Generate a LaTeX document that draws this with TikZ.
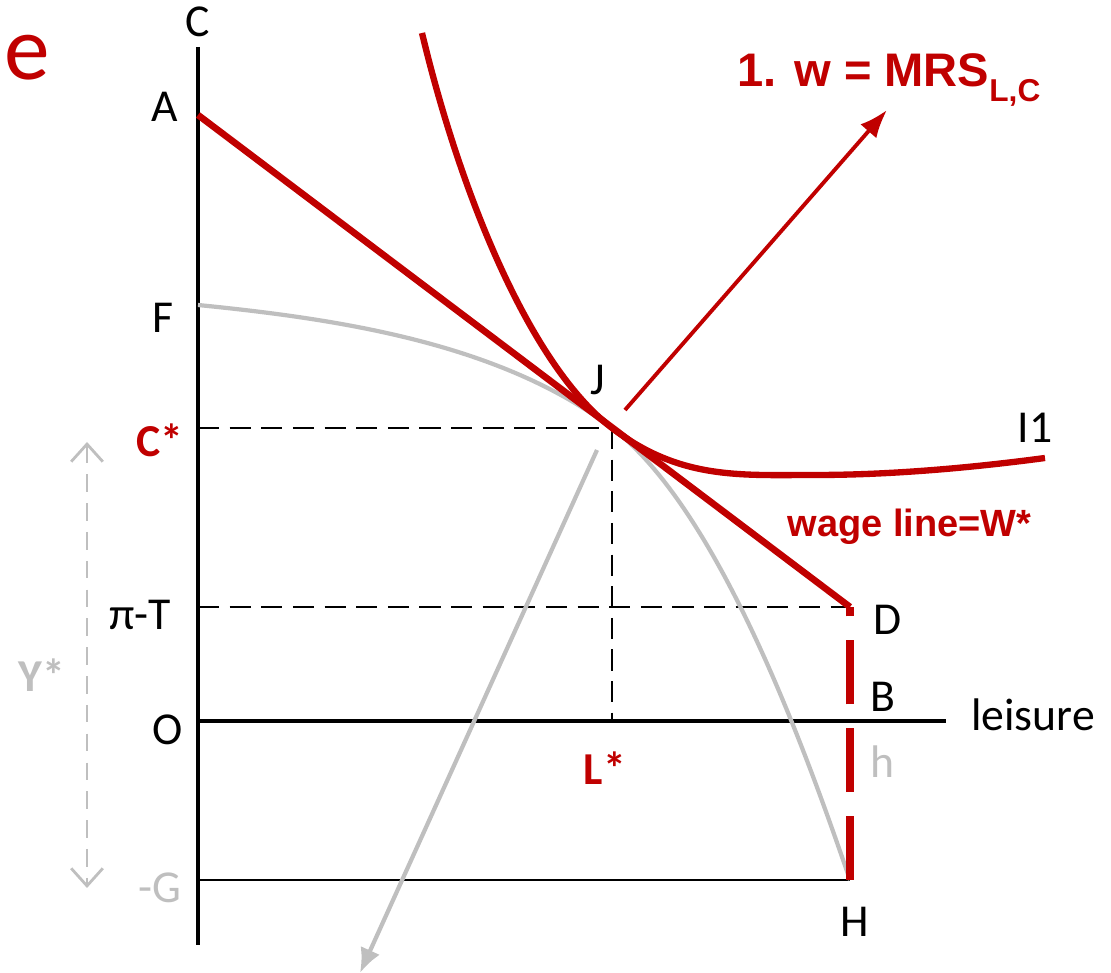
\documentclass[tikz,border=0pt]{standalone}
\usepackage{fontspec}
\setmainfont{Carlito}
\newfontfamily\arialfont{Liberation Sans}
\usetikzlibrary{arrows.meta,positioning,calc}
\definecolor{wagered}{RGB}{192,0,0}
\definecolor{curvegray}{RGB}{191,191,191}

\begin{document}
\begin{tikzpicture}[x=1cm,y=1cm,
  lab/.style={font=\fontsize{13}{15}\selectfont, inner sep=0pt},
  starlab/.style={font=\fontsize{13}{15}\selectfont\bfseries, inner sep=0pt},
  guide/.style={black, line width=0.6pt, dash pattern=on 6pt off 3pt}]
  \clip (-1.98,-2.52) rectangle (9.13,7.21);

  % Points of the diagram
  \coordinate (O) at (0,0);
  \coordinate (Ctop) at (0,6.74);
  \coordinate (Cbot) at (0,-2.24);
  \coordinate (Lend) at (7.48,0);
  \coordinate (A) at (0,6.06);
  \coordinate (D) at (6.52,1.14);
  \coordinate (F) at (0,4.16);
  \coordinate (J) at (4.14,2.93);
  \coordinate (H) at (6.52,-1.59);
  \coordinate (G) at (0,-1.59);
  \coordinate (PT) at (0,1.14);
  \coordinate (Cstar) at (0,2.93);
  \coordinate (Lstar) at (4.14,0);

  % Title fragment (cut off)
  \node[anchor=east, text=wagered, inner sep=0pt, font=\fontsize{26}{28}\selectfont] (title) at (-1.47,6.63) {ne};

  % Axes
  \draw[line width=1.2pt] (Ctop) -- (Cbot);
  \draw[line width=1.2pt] (O) -- (Lend);
  \draw[line width=0.7pt] (G) -- (H);

  % Guides at the optimum
  \draw[guide] (Cstar) -- (J);
  \draw[guide] (J) -- (Lstar);
  \draw[guide] (PT) -- (D);

  % Production frontier
  \draw[curvegray, line width=1.2pt] (F) .. controls (1.40,4.02) and (3.02,3.78) .. (J)
    .. controls (5.24,2.09) and (6.12,-0.43) .. (H);

  % Y* span and leisure arrow
  \coordinate (ytop) at (-1.11,2.79);
  \coordinate (ybot) at (-1.11,-1.67);
  \draw[curvegray, line width=0.8pt, dash pattern=on 5pt off 3.2pt,
    {Straight Barb[length=5pt,width=9pt]}-{Straight Barb[length=5pt,width=9pt]}] (ytop) -- (ybot);
  \coordinate (ytail) at (3.99,2.71);
  \coordinate (yhead) at (1.62,-2.52);
  \draw[curvegray, line width=1.2pt, -{Latex[length=7pt,width=6pt]}] (ytail) -- (yhead);

  % Wage line and endowment
  \draw[wagered, line width=1.9pt] (A) -- (D);
  \draw[wagered, line width=2pt, dash pattern=on 18.2pt off 6.8pt] (H) -- (D);

  % Indifference curve
  \draw[wagered, line width=1.8pt] (2.24,6.88) .. controls (2.64,5.21) and (3.34,3.54) .. (J)
    .. controls (4.82,2.41) and (5.42,2.46) .. (6.17,2.46)
    .. controls (6.92,2.46) and (7.72,2.53) .. (8.47,2.63);

  % Tangency condition
  \coordinate (mrsstart) at (4.27,3.11);
  \coordinate (mrsend) at (6.89,6.11);
  \draw[wagered, line width=1.1pt, -{Latex[length=8pt,width=6pt]}] (mrsstart) -- (mrsend);
  \node[anchor=west, text=wagered, inner sep=0pt] (mrs) at (5.39,6.41)
    {\arialfont\bfseries\fontsize{13.4}{15}\selectfont 1. w = MRS\raisebox{-4pt}{\fontsize{9}{10}\selectfont L,C}};
  \node[anchor=west, text=wagered, inner sep=0pt] (wage) at (5.89,1.94)
    {\arialfont\bfseries\fontsize{10.8}{12}\selectfont wage line=W*};

  % Labels
  \node[lab] (lC) at (0,6.99) {C};
  \node[lab] (lA) at (-0.33,6.14) {A};
  \node[lab] (lF) at (-0.35,4.03) {F};
  \node[lab] (lJ) at (4.00,3.41) {J};
  \node[starlab, text=wagered] (lCs) at (-0.38,2.81) {C*};
  \node[lab] (lPT) at (-0.58,1.06) {π-T};
  \node[lab] (lD) at (6.90,1.01) {D};
  \node[lab] (lB) at (6.85,0.24) {B};
  \node[lab] (lleis) at (8.35,0.06) {leisure};
  \node[lab] (lO) at (-0.30,-0.09) {O};
  \node[lab, text=curvegray] (lh) at (6.84,-0.41) {h};
  \node[starlab, text=wagered] (lLs) at (4.07,-0.47) {L*};
  \node[lab, text=curvegray] (lG) at (-0.38,-1.67) {-G};
  \node[lab] (lH) at (6.57,-2.01) {H};
  \node[lab] (lI) at (8.37,2.93) {I1};
  \node[starlab, text=curvegray] (lY) at (-1.56,0.46) {Y*};
\end{tikzpicture}
\end{document}
